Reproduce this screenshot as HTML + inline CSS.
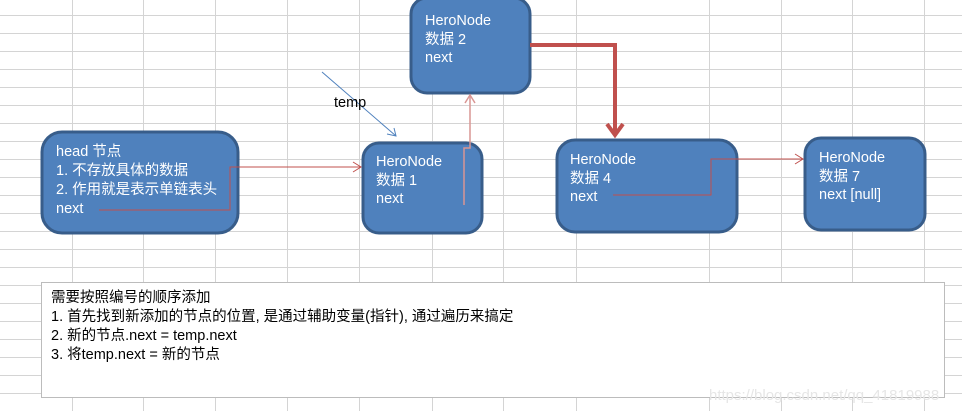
<!DOCTYPE html>
<html><head><meta charset="utf-8"><style>
html,body{margin:0;padding:0;background:#fff;}
svg{display:block;}
text{font-family:"Liberation Sans","Noto Sans CJK SC",sans-serif;}
.w{fill:#fff;font-size:14.5px;}
.b{fill:#000;font-size:14.5px;}
</style></head><body>
<svg width="962" height="411" viewBox="0 0 962 411" xmlns="http://www.w3.org/2000/svg">
<g stroke="#d4d4d4" stroke-width="1">
<line x1="72.5" y1="0" x2="72.5" y2="411"/><line x1="143.5" y1="0" x2="143.5" y2="411"/><line x1="215.5" y1="0" x2="215.5" y2="411"/><line x1="287.5" y1="0" x2="287.5" y2="411"/><line x1="359.5" y1="0" x2="359.5" y2="411"/><line x1="432.5" y1="0" x2="432.5" y2="411"/><line x1="503.5" y1="0" x2="503.5" y2="411"/><line x1="576.5" y1="0" x2="576.5" y2="411"/><line x1="709.5" y1="0" x2="709.5" y2="411"/><line x1="781.5" y1="0" x2="781.5" y2="411"/><line x1="852.5" y1="0" x2="852.5" y2="411"/><line x1="924.5" y1="0" x2="924.5" y2="411"/>
<line x1="0" y1="15.5" x2="962" y2="15.5"/><line x1="0" y1="33.5" x2="962" y2="33.5"/><line x1="0" y1="51.5" x2="962" y2="51.5"/><line x1="0" y1="69.5" x2="962" y2="69.5"/><line x1="0" y1="87.5" x2="962" y2="87.5"/><line x1="0" y1="105.5" x2="962" y2="105.5"/><line x1="0" y1="123.5" x2="962" y2="123.5"/><line x1="0" y1="141.5" x2="962" y2="141.5"/><line x1="0" y1="159.5" x2="962" y2="159.5"/><line x1="0" y1="177.5" x2="962" y2="177.5"/><line x1="0" y1="195.5" x2="962" y2="195.5"/><line x1="0" y1="213.5" x2="962" y2="213.5"/><line x1="0" y1="231.5" x2="962" y2="231.5"/><line x1="0" y1="249.5" x2="962" y2="249.5"/><line x1="0" y1="267.5" x2="962" y2="267.5"/><line x1="0" y1="285.5" x2="962" y2="285.5"/><line x1="0" y1="303.5" x2="962" y2="303.5"/><line x1="0" y1="321.5" x2="962" y2="321.5"/><line x1="0" y1="339.5" x2="962" y2="339.5"/><line x1="0" y1="357.5" x2="962" y2="357.5"/><line x1="0" y1="375.5" x2="962" y2="375.5"/><line x1="0" y1="393.5" x2="962" y2="393.5"/>
</g>
<g fill="#4f81bd" stroke="#385d8a" stroke-width="3">
<rect x="42" y="132" width="196" height="101" rx="20"/>
<rect x="363" y="143" width="119" height="90" rx="16"/>
<rect x="411" y="-2" width="119" height="95" rx="16"/>
<rect x="557" y="140" width="180" height="92" rx="18"/>
<rect x="805" y="138" width="120" height="92" rx="16"/>
</g>
<text class="w" x="56" y="156">head 节点</text>
<text class="w" x="56" y="175">1. 不存放具体的数据</text>
<text class="w" x="56" y="194">2. 作用就是表示单链表头</text>
<text class="w" x="56" y="213">next</text>
<text class="w" x="376" y="166">HeroNode</text>
<text class="w" x="376" y="185">数据 1</text>
<text class="w" x="376" y="203">next</text>
<text class="w" x="425" y="25">HeroNode</text>
<text class="w" x="425" y="44">数据 2</text>
<text class="w" x="425" y="62">next</text>
<text class="w" x="570" y="164">HeroNode</text>
<text class="w" x="570" y="183">数据 4</text>
<text class="w" x="570" y="201">next</text>
<text class="w" x="819" y="162">HeroNode</text>
<text class="w" x="819" y="181">数据 7</text>
<text class="w" x="819" y="199">next [null]</text>
<g fill="none" stroke="#c0504d" stroke-width="1">
<polyline points="99,210 230,210 230,167 361,167"/>
<polyline points="353,162 361,167 353,172"/>
<polyline points="613,195 711,195 711,159 803,159"/>
<polyline points="795,154 803,159 795,164"/>
</g>
<g fill="none" stroke="#d99694" stroke-width="1.5">
<polyline points="464,205 464,148 470,148 470,95"/>
<polyline points="465,103 470,95 475,103"/>
</g>
<g fill="none" stroke="#4f81bd" stroke-width="1">
<line x1="322" y1="72" x2="396" y2="136"/>
<polyline points="387,134 396,136 394,128"/>
</g>
<text class="b" x="334" y="107">temp</text>
<g fill="none" stroke="#c0504d" stroke-width="4">
<polyline points="530,45 615,45 615,135"/>
<polyline points="607,124 615,135 623,124"/>
</g>
<rect x="41.5" y="282.5" width="903" height="115" fill="#fff" stroke="#bcbcbc"/>
<text class="b" x="51" y="302">需要按照编号的顺序添加</text>
<text class="b" x="51" y="321">1. 首先找到新添加的节点的位置, 是通过辅助变量(指针), 通过遍历来搞定</text>
<text class="b" x="51" y="340">2. 新的节点.next = temp.next</text>
<text class="b" x="51" y="359">3. 将temp.next = 新的节点</text>
<text x="709" y="400" style="font-size:15px;fill:#e6e6e6;">https://blog.csdn.net/qq_41819988</text>
</svg>
</body></html>
